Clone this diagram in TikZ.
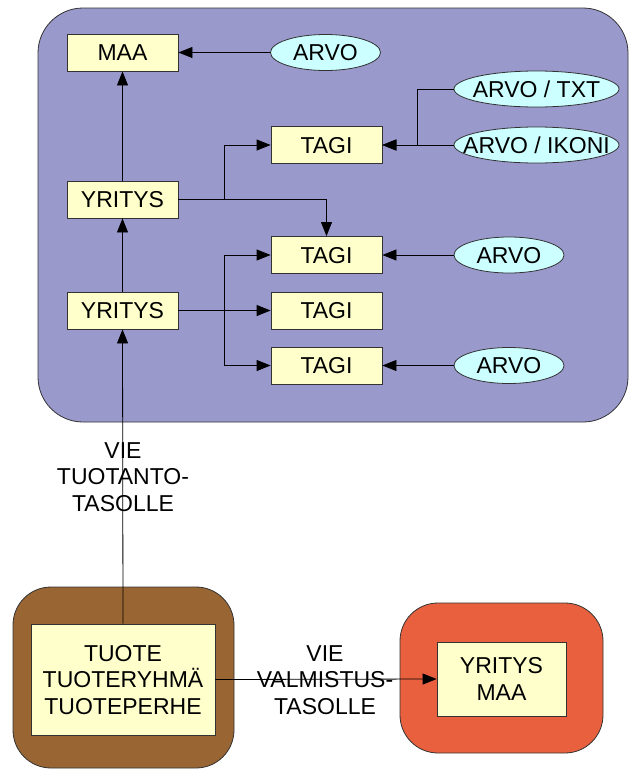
\documentclass[tikz,border=0pt]{standalone}
\usepackage{fontspec}
\setmainfont{Liberation Sans}
\usetikzlibrary{arrows.meta,shapes.geometric}
\definecolor{panel}{RGB}{153,153,204}
\definecolor{boxfill}{RGB}{255,255,204}
\definecolor{ovalfill}{RGB}{204,255,255}
\definecolor{brownbg}{RGB}{153,102,51}
\definecolor{orangebg}{RGB}{232,96,62}
\begin{document}
\begin{tikzpicture}[x=1pt,y=-1pt,
  font=\fontsize{23}{26.5}\selectfont,
  every node/.style={inner sep=0pt, text depth=0pt},
  box/.style={draw=black!80, line width=0.8pt, fill=boxfill,
    minimum width=111pt, minimum height=37pt},
  oval/.style={ellipse, draw=black!80, line width=0.8pt, fill=ovalfill,
    minimum width=110pt, minimum height=36pt},
  wideoval/.style={oval, minimum width=165pt},
  link/.style={draw=black, line width=0.8pt},
  arr/.style={link, -{Triangle[length=14pt,width=11pt]}},
  label/.style={align=center}
]
\useasboundingbox (0,0) rectangle (629,769);
\clip (0,0) rectangle (629,769);

% background panels
\draw[fill=panel, draw=black!80, line width=0.8pt, rounded corners=45pt]
  (38,8) rectangle (628,422);
\draw[fill=brownbg, draw=black!80, line width=0.8pt, rounded corners=38pt]
  (13,587) rectangle (234,768);
\draw[fill=orangebg, draw=black!80, line width=0.8pt, rounded corners=38pt]
  (400,603) rectangle (603,753);

% nodes of the upper panel (ovals keep a fixed size, text set on top)
\node[box] (maa) at (122.5,52.5) {MAA};
\node[oval] (arvo0) at (325.5,52.5) {};
\node at (arvo0) {ARVO};
\node[wideoval] (txt) at (536.5,89) {};
\node at (txt) {ARVO / TXT};
\node[box] (tagi1) at (326.5,145) {TAGI};
\node[wideoval] (ikoni) at (536.5,145) {};
\node at (ikoni) {ARVO / IKONI};
\node[box] (yr1) at (122.5,199.5) {YRITYS};
\node[box] (tagi2) at (326.5,255) {TAGI};
\node[oval] (arvo2) at (509,255) {};
\node at (arvo2) {ARVO};
\node[box] (yr2) at (122.5,310.5) {YRITYS};
\node[box] (tagi3) at (326.5,310.5) {TAGI};
\node[box] (tagi4) at (326.5,365.5) {TAGI};
\node[oval] (arvo3) at (509,365.5) {};
\node at (arvo3) {ARVO};

% lower boxes
\node[box, minimum width=184pt, minimum height=111pt, align=center]
  (tuote) at (123,679.5) {TUOTE\\TUOTERYHMÄ\\TUOTEPERHE};
\node[box, minimum width=129pt, minimum height=74pt, align=center]
  (yrmaa) at (501.5,679) {YRITYS\\MAA};

% junction points
\coordinate (j1) at (224,199.5);
\coordinate (j2) at (224,310.5);
\coordinate (jt) at (417,145);

% connectors
\draw[arr] (arvo0.west) -- (maa.east);
\draw[arr] (yr1.north) -- (maa.south);
\draw[arr] (yr2.north) -- (yr1.south);
\draw[arr] (tuote.north) -- (yr2.south);
\draw[arr] (yr1.east) -- (j1) |- (tagi1.west);
\draw[arr] (yr1.east) -| (tagi2.north);
\draw[arr] (txt.west) -| (jt) -- (tagi1.east);
\draw[arr] (ikoni.west) -- (tagi1.east);
\draw[arr] (arvo2.west) -- (tagi2.east);
\draw[arr] (arvo3.west) -- (tagi4.east);
\draw[arr] (yr2.east) -- (tagi3.west);
\draw[arr] (j2) |- (tagi2.west);
\draw[arr] (j2) |- (tagi4.west);
\draw[arr] (tuote.east) -- (yrmaa.west);

% connector labels
\node[label] (lab1) at (123,477) {VIE\\TUOTANTO-\\TASOLLE};
\node[label] (lab2) at (325,680) {VIE\\VALMISTUS-\\TASOLLE};
\end{tikzpicture}
\end{document}
